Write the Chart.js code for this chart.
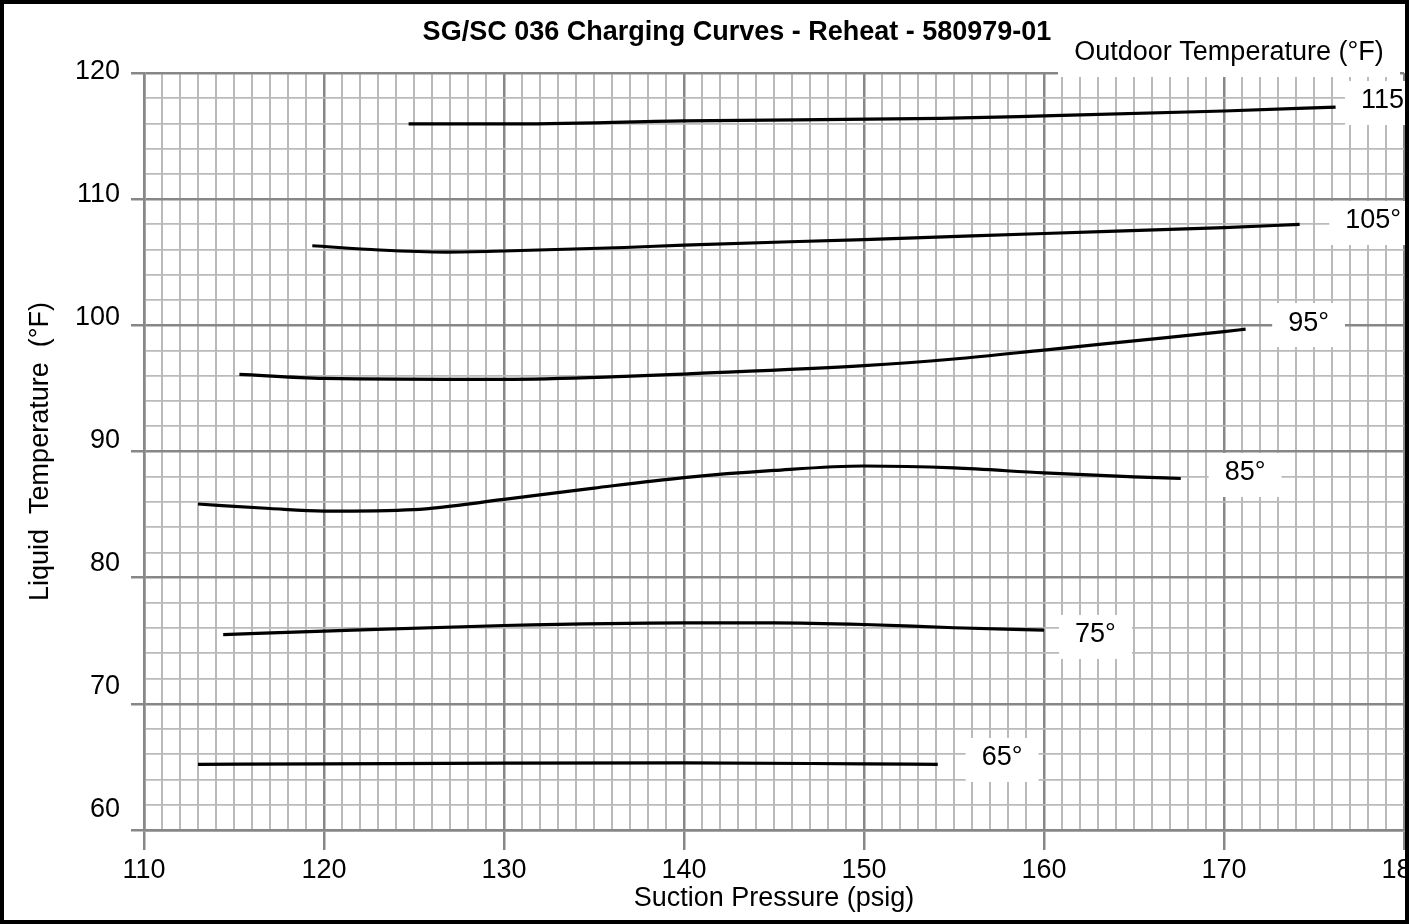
<!DOCTYPE html>
<html>
<head>
<meta charset="utf-8">
<script src="https://cdn.jsdelivr.net/npm/chart.js@4"></script>
<style>
  html, body { margin: 0; padding: 0; background: #fff; }
</style>
</head>
<body>
<canvas id="chart" width="1409" height="924"></canvas>
<script>
// SG/SC 036 charging curves - reheat
const outdoorTemps = [65, 75, 85, 95, 105, 115];

const pressure65 = [113, 120, 130, 140, 150, 154.1];
const liquid65 = [65.2, 65.24, 65.3, 65.32, 65.24, 65.2];

const pressure75 = [114.4, 120, 130, 140, 145, 150, 155, 160];
const liquid75 = [75.48, 75.77, 76.21, 76.42, 76.42, 76.29, 76.03, 75.85];

const pressure85 = [113, 117, 120, 125, 130, 135, 140, 145, 150, 155, 160, 165, 167.6];
const liquid85 = [85.84, 85.48, 85.28, 85.4, 86.2, 87.1, 87.93, 88.5, 88.85, 88.7, 88.3, 87.99, 87.86];

const pressure95 = [115.3, 120, 130, 136.7, 140, 150, 155, 160, 165, 170, 171.2];
const liquid95 = [96.12, 95.8, 95.72, 95.95, 96.14, 96.8, 97.33, 98.04, 98.77, 99.5, 99.7];

const pressure105 = [119.35, 123.1, 126.8, 130, 136.7, 140, 150, 160, 170, 174.2];
const liquid105 = [106.31, 105.97, 105.81, 105.89, 106.17, 106.36, 106.8, 107.28, 107.75, 108.0];

const pressure115 = [124.7, 130, 140, 154.2, 160, 170, 176.2];
const liquid115 = [115.96, 115.96, 116.2, 116.4, 116.6, 116.99, 117.3];

const xTickLabels = [110, 120, 130, 140, 150, 160, 170, 180];
const yTickLabels = [60, 70, 80, 90, 100, 110, 120];

// curve tags: text and where they sit (data units)
const curveLabels = ['65°', '75°', '85°', '95°', '105°', '115°'];
const labelPressure = [157.67, 162.86, 171.17, 174.7, 178.29, 179.11];
const labelLiquid = [65.71, 75.46, 88.3, 100.18, 108.27, 117.78];

const FONT = '"Liberation Sans", Arial, sans-serif';
const majorGrid = '#878787';
const minorGrid = '#bababa';

Chart.defaults.font.family = FONT;
Chart.defaults.color = '#000';

function pts(xs, ys) {
    return xs.map((x, i) => ({ x: x, y: ys[i] }));
}

const series = [
    [pressure65, liquid65],
    [pressure75, liquid75],
    [pressure85, liquid85],
    [pressure95, liquid95],
    [pressure105, liquid105],
    [pressure115, liquid115]
];

const datasets = series.map((s, i) => ({
    label: outdoorTemps[i] + '°',
    data: pts(s[0], s[1]),
    borderColor: '#000',
    borderWidth: 3.2,
    pointRadius: 0,
    fill: false,
    tension: 0.4,
    cubicInterpolationMode: 'monotone'
}));

const isMajor = v => Math.abs(v % 10) < 1e-6;

const decor = {
    id: 'decor',
    beforeDraw(chart) {
        const ctx = chart.ctx;
        ctx.save();
        ctx.fillStyle = '#fff';
        ctx.fillRect(0, 0, chart.width, chart.height);
        ctx.restore();
    },
    afterDatasetsDraw(chart) {
        const ctx = chart.ctx;
        const xs = chart.scales.x, ys = chart.scales.y;
        ctx.save();

        // curve tags on white boxes
        ctx.font = '27px ' + FONT;
        ctx.textAlign = 'center';
        ctx.textBaseline = 'middle';
        curveLabels.forEach((txt, i) => {
            const px = xs.getPixelForValue(labelPressure[i]);
            const py = ys.getPixelForValue(labelLiquid[i]);
            const w = ctx.measureText(txt).width + 32;
            ctx.fillStyle = '#fff';
            ctx.fillRect(px - w / 2, py + 2 - 22, w, 44);
            ctx.fillStyle = '#000';
            ctx.fillText(txt, px, py);
        });

        // legend heading
        ctx.fillStyle = '#fff';
        ctx.fillRect(1058, 4, 342, 73);
        ctx.fillStyle = '#000';
        ctx.fillText('Outdoor Temperature (°F)', 1229, 53);

        // title
        ctx.font = 'bold 27px ' + FONT;
        ctx.fillText('SG/SC 036 Charging Curves - Reheat - 580979-01', 737, 33);

        // y tick labels (drawn here, they sit a bit above their lines)
        ctx.font = '27px ' + FONT;
        ctx.textAlign = 'right';
        const yMax = Math.max(...yTickLabels), yMin = Math.min(...yTickLabels);
        const top = ys.getPixelForValue(yMax) - 1;
        const bottom = ys.getPixelForValue(yMin) - 20;
        yTickLabels.forEach(v => {
            const yy = top + (yMax - v) / (yMax - yMin) * (bottom - top);
            ctx.fillText(String(v), 120, yy);
        });
        ctx.restore();
    },
    afterDraw(chart) {
        const ctx = chart.ctx;
        ctx.save();
        ctx.strokeStyle = '#000';
        ctx.lineWidth = 8;
        ctx.strokeRect(0, 0, chart.width, chart.height);
        ctx.restore();
    }
};

new Chart(document.getElementById('chart').getContext('2d'), {
    type: 'line',
    data: { datasets: datasets },
    options: {
        responsive: false,
        animation: false,
        layout: { padding: { top: 73, right: 5, bottom: 0, left: 0 } },
        plugins: {
            legend: { display: false },
            tooltip: { enabled: false }
        },
        scales: {
            x: {
                type: 'linear',
                min: 110,
                max: 180,
                ticks: {
                    stepSize: 1,
                    autoSkip: false,
                    maxRotation: 0,
                    padding: 4,
                    font: { size: 27 },
                    color: '#000',
                    callback: v => (xTickLabels.includes(v) ? String(v) : '')
                },
                grid: {
                    color: c => (isMajor(c.tick.value) ? majorGrid : minorGrid),
                    lineWidth: c => (isMajor(c.tick.value) ? 2.5 : 2),
                    tickLength: 20,
                    tickColor: c => (isMajor(c.tick.value) ? majorGrid : 'rgba(0,0,0,0)'),
                    tickWidth: 2.5
                },
                border: { color: majorGrid, width: 2.5 },
                title: {
                    display: true,
                    text: 'Suction Pressure (psig)',
                    font: { size: 27 },
                    color: '#000',
                    padding: { top: 0, bottom: 9 }
                },
                afterFit: s => {
                    s.height = 94;
                    s.paddingLeft = 0;
                    s.paddingRight = 0;
                }
            },
            y: {
                min: 60,
                max: 120,
                ticks: { stepSize: 2, display: false },
                grid: {
                    color: c => (isMajor(c.tick.value) ? majorGrid : minorGrid),
                    lineWidth: c => (isMajor(c.tick.value) ? 2.5 : 1.8),
                    tickLength: 13,
                    tickColor: c => (isMajor(c.tick.value) ? majorGrid : 'rgba(0,0,0,0)'),
                    tickWidth: 2.5
                },
                border: { color: majorGrid, width: 2.5 },
                title: {
                    display: true,
                    text: 'Liquid  Temperature  (°F)',
                    font: { size: 27 },
                    color: '#000',
                    padding: { top: 24, bottom: 0 }
                },
                afterFit: s => {
                    s.width = 144;
                    s.paddingTop = 0;
                    s.paddingBottom = 0;
                }
            }
        }
    },
    plugins: [decor]
});
</script>
</body>
</html>
